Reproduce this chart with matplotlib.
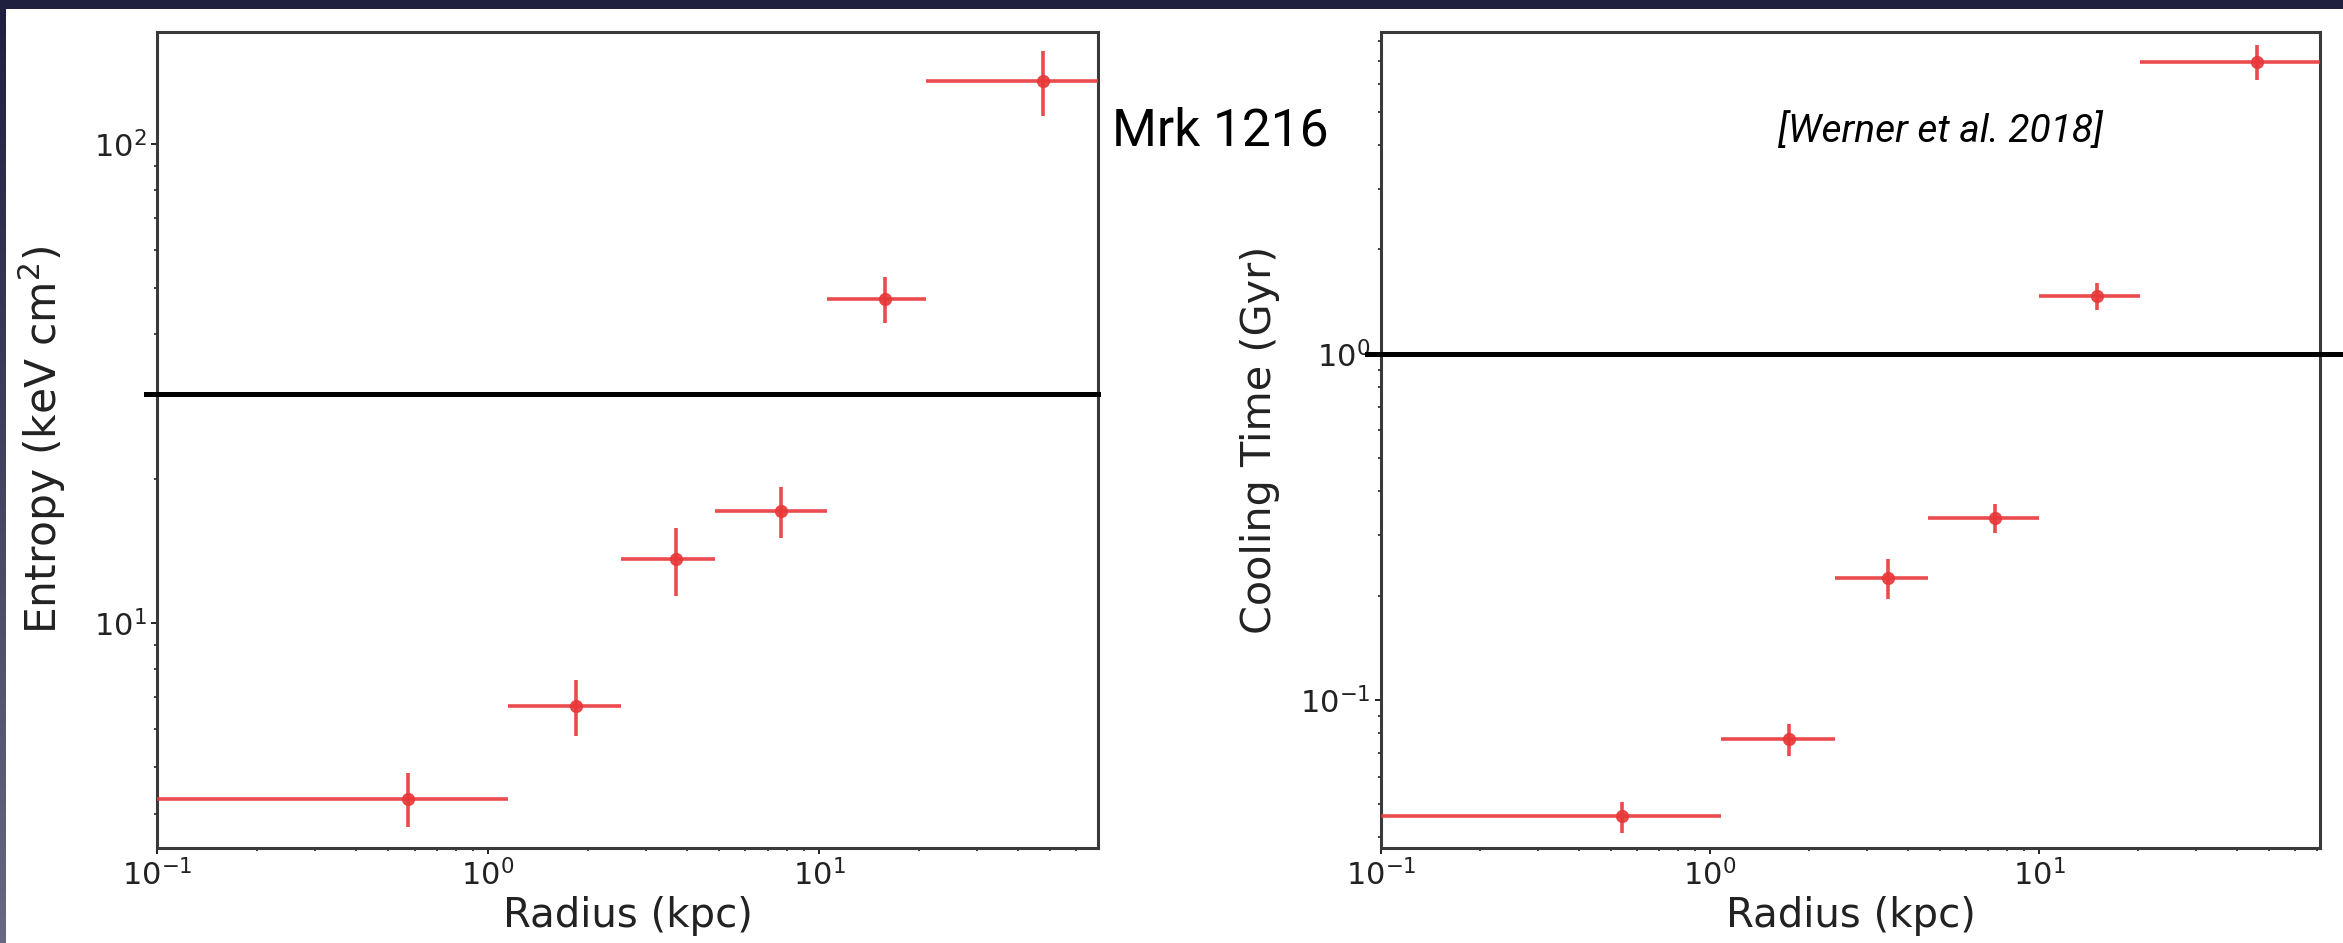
import numpy as np
import matplotlib
matplotlib.use("Agg")
import matplotlib.pyplot as plt

# entropy profile: bin centres, bin edges (kpc) and values (keV cm^2)
r_K = [0.575, 1.84, 3.69, 7.7, 15.8, 47.5]
r_K_in = [0.0, 1.15, 2.52, 4.85, 10.6, 21.0]
r_K_out = [1.15, 2.52, 4.85, 10.6, 21.0, 74.0]
K = [4.3, 6.7, 13.6, 17.1, 47.4, 135.0]
K_err = [0.55, 0.9, 2.2, 2.1, 5.2, 21.0]
K_thresh = 30.0

# cooling time profile: bin centres, bin edges (kpc) and values (Gyr)
r_t = [0.54, 1.74, 3.47, 7.34, 15.0, 46.0]
r_t_in = [0.0, 1.08, 2.40, 4.60, 10.0, 20.3]
r_t_out = [1.08, 2.40, 4.60, 10.0, 20.3, 72.0]
t_cool = [0.046, 0.077, 0.225, 0.336, 1.47, 6.98]
t_err = [0.0047, 0.008, 0.03, 0.033, 0.13, 0.8]
t_thresh = 1.0

W, H = 2343, 943
red = '#e8383a'
navy = '#1f1f40'

fig = plt.figure(figsize=(W / 100, H / 100), dpi=100)
fig.patch.set_facecolor('white')

# slide frame: dark band on top, shaded strip on the left
top = fig.add_axes([0, 1 - 9 / H, 1, 9 / H])
top.set_axis_off()
top.add_patch(plt.Rectangle((0, 0), 1, 1, color=navy, transform=top.transAxes))
side = fig.add_axes([0, 0, 6 / W, 1 - 9 / H])
shade = np.linspace(0, 1, 200)[:, None, None]
c0 = np.array([0x1f, 0x1f, 0x40]) / 255
c1 = np.array([0x68, 0x68, 0x82]) / 255
side.imshow(c0 + shade * (c1 - c0), aspect='auto', extent=(0, 1, 0, 1))
side.set_axis_off()


def profile(ax, r, r_in, r_out, y, yerr, xmax, ylim, ylabel, ysize, thresh, line_span):
    xerr = [np.array(r) - np.array(r_in), np.array(r_out) - np.array(r)]
    ax.errorbar(r, y, xerr=xerr, yerr=yerr, fmt='o', color=red, ms=8.5,
                elinewidth=2.6, ecolor=red, alpha=0.9, capsize=0, zorder=3)
    ax.set_xscale('log')
    ax.set_yscale('log')
    ax.set_xlim(0.1, xmax)
    ax.set_ylim(*ylim)
    ax.set_xlabel('Radius (kpc)', fontsize=29, color='#222222')
    ax.set_ylabel(ylabel, fontsize=ysize, color='#222222')
    ax.tick_params(which='major', direction='out', length=4, width=1.4,
                   labelsize=22, colors='#222222')
    ax.tick_params(which='minor', direction='out', length=2.5, width=1.2,
                   colors='#222222')
    for s in ax.spines.values():
        s.set_color('#3a3a3a')
        s.set_linewidth(2.2)
    ax.axhline(thresh, xmin=line_span[0], xmax=line_span[1], color='black',
               lw=3.6, clip_on=False, zorder=4)


ax1 = fig.add_axes([157 / W, 95 / H, 941 / W, 816 / H])
profile(ax1, r_K, r_K_in, r_K_out, K, K_err, 69.7, (3.39, 171),
        'Entropy (keV cm$^2$)', 30.5, K_thresh, (-0.0117, 1.0))
ax1.yaxis.set_label_coords(-0.095, 0.5)

ax2 = fig.add_axes([1381 / W, 95 / H, 939 / W, 816 / H])
profile(ax2, r_t, r_t_in, r_t_out, t_cool, t_err, 71.5, (0.0373, 8.5),
        'Cooling Time (Gyr)', 29.8, t_thresh, (-0.0149, 1.0245))
ax2.yaxis.set_label_coords(-0.108, 0.5)

fig.text(1329 / W, 1 - 146 / H, 'Mrk 1216', ha='right', va='baseline',
         fontsize=37, family=['Roboto', 'DejaVu Sans'], color='black')
fig.text(1778 / W, 1 - 142 / H, '[Werner et al. 2018]', ha='left',
         va='baseline', fontsize=28, family=['Roboto', 'DejaVu Sans'],
         style='italic', color='black')

fig.savefig('out.png', dpi=100, facecolor='white')
